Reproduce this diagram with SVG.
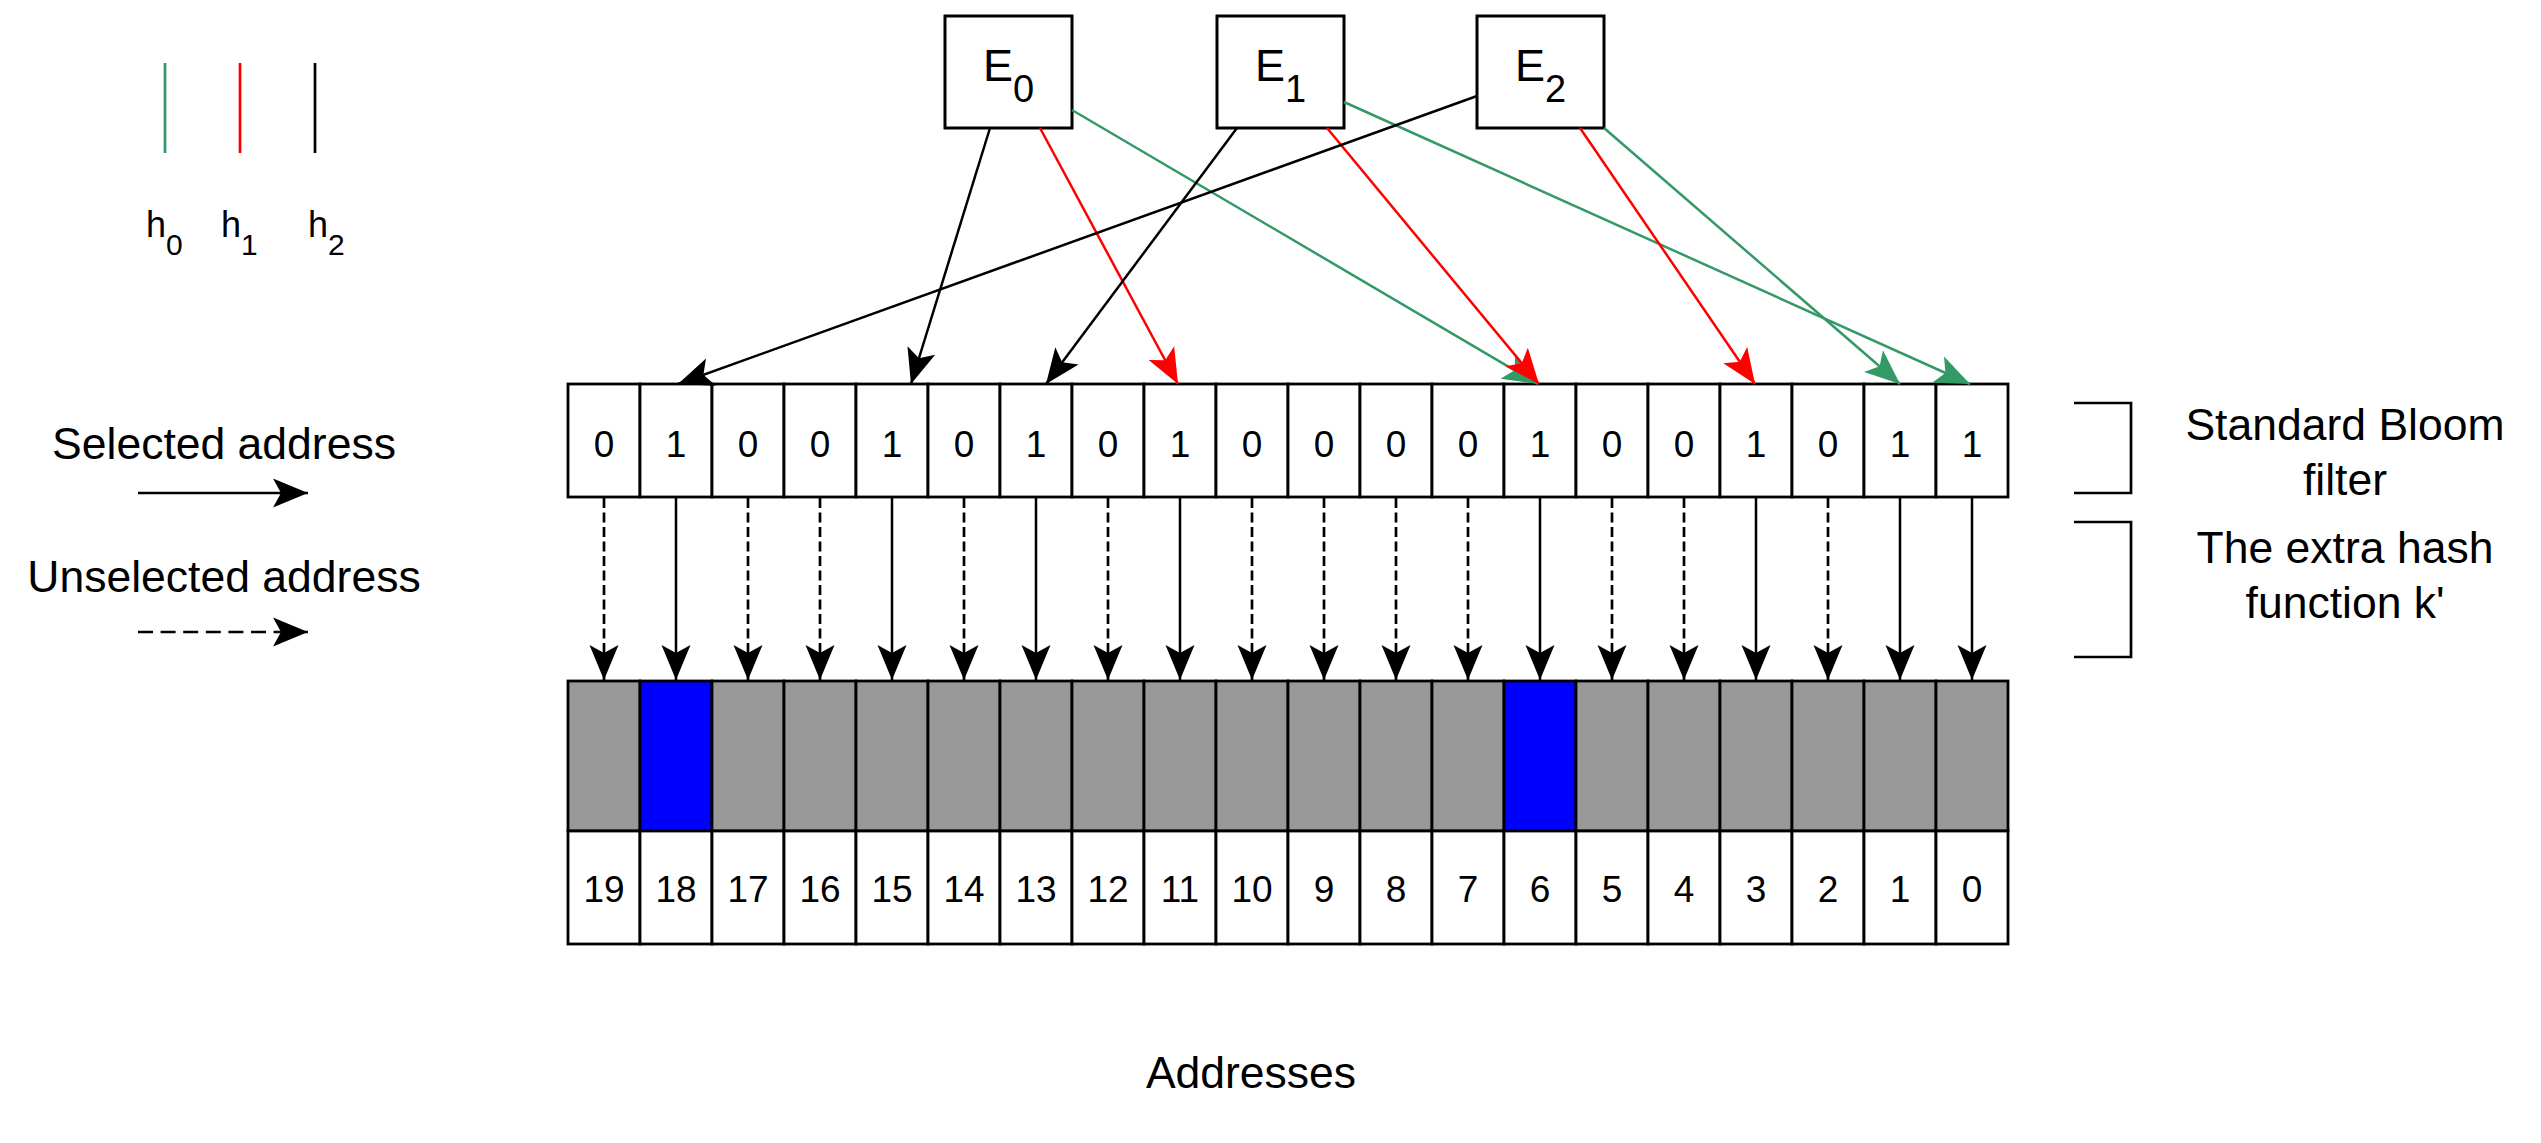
<svg xmlns="http://www.w3.org/2000/svg" width="2541" height="1143" viewBox="0 0 2541 1143">
<style>
text{font-family:"Liberation Sans",Arial,sans-serif;fill:#000}
.lbl{font-size:44.5px;text-anchor:middle}
.dig{font-size:37px;text-anchor:middle}
.cell{fill:#fff;stroke:#000;stroke-width:2.8}
.mem{fill:#999999;stroke:#000;stroke-width:2.8}
.sel{fill:#0000FF;stroke:#000;stroke-width:2.8}
.box{fill:#fff;stroke:#000;stroke-width:3}
.c{fill:none;stroke-width:2.5}
.k{stroke:#000}
.r{stroke:#FF0000}
.g{stroke:#339966}
.dash{stroke-dasharray:10 4.5;stroke-width:2.7}
.ldash{stroke-dasharray:15 7.6}
</style>
<defs>
<marker id="ak" viewBox="-36 -16 37 32" markerWidth="37" markerHeight="32" refX="0" refY="0" orient="auto" markerUnits="userSpaceOnUse"><path d="M0,0 L-35,-14.5 L-27,0 L-35,14.5 Z" fill="#000"/></marker>
<marker id="ar" viewBox="-36 -16 37 32" markerWidth="37" markerHeight="32" refX="0" refY="0" orient="auto" markerUnits="userSpaceOnUse"><path d="M0,0 L-35,-14.5 L-27,0 L-35,14.5 Z" fill="#FF0000"/></marker>
<marker id="ag" viewBox="-36 -16 37 32" markerWidth="37" markerHeight="32" refX="0" refY="0" orient="auto" markerUnits="userSpaceOnUse"><path d="M0,0 L-35,-14.5 L-27,0 L-35,14.5 Z" fill="#339966"/></marker>
</defs>

<g id="legend-hash">
<line x1="165" y1="63" x2="165" y2="153" stroke="#339966" stroke-width="2.7"/>
<line x1="240" y1="63" x2="240" y2="153" stroke="#FF0000" stroke-width="2.7"/>
<line x1="315" y1="63" x2="315" y2="153" stroke="#000" stroke-width="2.7"/>
<text x="146" y="237" font-size="36">h<tspan dy="18" font-size="30">0</tspan></text>
<text x="221" y="237" font-size="36">h<tspan dy="18" font-size="30">1</tspan></text>
<text x="308" y="237" font-size="36">h<tspan dy="18" font-size="30">2</tspan></text>
</g>

<g id="legend-arrows">
<text class="lbl" x="224" y="459">Selected address</text>
<line class="c k" x1="138" y1="493" x2="308" y2="493" marker-end="url(#ak)"/>
<text class="lbl" x="224" y="592">Unselected address</text>
<line class="c k ldash" x1="138" y1="632" x2="308" y2="632" marker-end="url(#ak)"/>
</g>

<g id="E0"><rect class="box" x="945" y="16" width="127" height="112"/><text x="1008.5" y="81" font-size="45" text-anchor="middle">E<tspan dy="21" font-size="38">0</tspan></text></g>
<g id="E1"><rect class="box" x="1217" y="16" width="127" height="112"/><text x="1280.5" y="81" font-size="45" text-anchor="middle">E<tspan dy="21" font-size="38">1</tspan></text></g>
<g id="E2"><rect class="box" x="1477" y="16" width="127" height="112"/><text x="1540.5" y="81" font-size="45" text-anchor="middle">E<tspan dy="21" font-size="38">2</tspan></text></g>

<g id="bloom-filter">
<rect class="cell" x="568" y="384" width="72" height="113"/><text class="dig" x="604" y="457">0</text>
<rect class="cell" x="640" y="384" width="72" height="113"/><text class="dig" x="676" y="457">1</text>
<rect class="cell" x="712" y="384" width="72" height="113"/><text class="dig" x="748" y="457">0</text>
<rect class="cell" x="784" y="384" width="72" height="113"/><text class="dig" x="820" y="457">0</text>
<rect class="cell" x="856" y="384" width="72" height="113"/><text class="dig" x="892" y="457">1</text>
<rect class="cell" x="928" y="384" width="72" height="113"/><text class="dig" x="964" y="457">0</text>
<rect class="cell" x="1000" y="384" width="72" height="113"/><text class="dig" x="1036" y="457">1</text>
<rect class="cell" x="1072" y="384" width="72" height="113"/><text class="dig" x="1108" y="457">0</text>
<rect class="cell" x="1144" y="384" width="72" height="113"/><text class="dig" x="1180" y="457">1</text>
<rect class="cell" x="1216" y="384" width="72" height="113"/><text class="dig" x="1252" y="457">0</text>
<rect class="cell" x="1288" y="384" width="72" height="113"/><text class="dig" x="1324" y="457">0</text>
<rect class="cell" x="1360" y="384" width="72" height="113"/><text class="dig" x="1396" y="457">0</text>
<rect class="cell" x="1432" y="384" width="72" height="113"/><text class="dig" x="1468" y="457">0</text>
<rect class="cell" x="1504" y="384" width="72" height="113"/><text class="dig" x="1540" y="457">1</text>
<rect class="cell" x="1576" y="384" width="72" height="113"/><text class="dig" x="1612" y="457">0</text>
<rect class="cell" x="1648" y="384" width="72" height="113"/><text class="dig" x="1684" y="457">0</text>
<rect class="cell" x="1720" y="384" width="72" height="113"/><text class="dig" x="1756" y="457">1</text>
<rect class="cell" x="1792" y="384" width="72" height="113"/><text class="dig" x="1828" y="457">0</text>
<rect class="cell" x="1864" y="384" width="72" height="113"/><text class="dig" x="1900" y="457">1</text>
<rect class="cell" x="1936" y="384" width="72" height="113"/><text class="dig" x="1972" y="457">1</text>
</g>

<g id="memory">
<rect class="mem" x="568" y="681" width="72" height="150"/>
<rect class="sel" x="640" y="681" width="72" height="150"/>
<rect class="mem" x="712" y="681" width="72" height="150"/>
<rect class="mem" x="784" y="681" width="72" height="150"/>
<rect class="mem" x="856" y="681" width="72" height="150"/>
<rect class="mem" x="928" y="681" width="72" height="150"/>
<rect class="mem" x="1000" y="681" width="72" height="150"/>
<rect class="mem" x="1072" y="681" width="72" height="150"/>
<rect class="mem" x="1144" y="681" width="72" height="150"/>
<rect class="mem" x="1216" y="681" width="72" height="150"/>
<rect class="mem" x="1288" y="681" width="72" height="150"/>
<rect class="mem" x="1360" y="681" width="72" height="150"/>
<rect class="mem" x="1432" y="681" width="72" height="150"/>
<rect class="sel" x="1504" y="681" width="72" height="150"/>
<rect class="mem" x="1576" y="681" width="72" height="150"/>
<rect class="mem" x="1648" y="681" width="72" height="150"/>
<rect class="mem" x="1720" y="681" width="72" height="150"/>
<rect class="mem" x="1792" y="681" width="72" height="150"/>
<rect class="mem" x="1864" y="681" width="72" height="150"/>
<rect class="mem" x="1936" y="681" width="72" height="150"/>
</g>

<g id="addresses">
<rect class="cell" x="568" y="831" width="72" height="113"/><text class="dig" x="604" y="902">19</text>
<rect class="cell" x="640" y="831" width="72" height="113"/><text class="dig" x="676" y="902">18</text>
<rect class="cell" x="712" y="831" width="72" height="113"/><text class="dig" x="748" y="902">17</text>
<rect class="cell" x="784" y="831" width="72" height="113"/><text class="dig" x="820" y="902">16</text>
<rect class="cell" x="856" y="831" width="72" height="113"/><text class="dig" x="892" y="902">15</text>
<rect class="cell" x="928" y="831" width="72" height="113"/><text class="dig" x="964" y="902">14</text>
<rect class="cell" x="1000" y="831" width="72" height="113"/><text class="dig" x="1036" y="902">13</text>
<rect class="cell" x="1072" y="831" width="72" height="113"/><text class="dig" x="1108" y="902">12</text>
<rect class="cell" x="1144" y="831" width="72" height="113"/><text class="dig" x="1180" y="902">11</text>
<rect class="cell" x="1216" y="831" width="72" height="113"/><text class="dig" x="1252" y="902">10</text>
<rect class="cell" x="1288" y="831" width="72" height="113"/><text class="dig" x="1324" y="902">9</text>
<rect class="cell" x="1360" y="831" width="72" height="113"/><text class="dig" x="1396" y="902">8</text>
<rect class="cell" x="1432" y="831" width="72" height="113"/><text class="dig" x="1468" y="902">7</text>
<rect class="cell" x="1504" y="831" width="72" height="113"/><text class="dig" x="1540" y="902">6</text>
<rect class="cell" x="1576" y="831" width="72" height="113"/><text class="dig" x="1612" y="902">5</text>
<rect class="cell" x="1648" y="831" width="72" height="113"/><text class="dig" x="1684" y="902">4</text>
<rect class="cell" x="1720" y="831" width="72" height="113"/><text class="dig" x="1756" y="902">3</text>
<rect class="cell" x="1792" y="831" width="72" height="113"/><text class="dig" x="1828" y="902">2</text>
<rect class="cell" x="1864" y="831" width="72" height="113"/><text class="dig" x="1900" y="902">1</text>
<rect class="cell" x="1936" y="831" width="72" height="113"/><text class="dig" x="1972" y="902">0</text>
<text class="lbl" x="1251" y="1088">Addresses</text>
</g>

<g id="brackets" fill="none" stroke="#000" stroke-width="2.7">
<path d="M2074,403 H2131 V493 H2074"/>
<path d="M2074,522 H2131 V657 H2074"/>
</g>
<g id="side-labels">
<text class="lbl" x="2345" y="440">Standard Bloom</text>
<text class="lbl" x="2345" y="495">filter</text>
<text class="lbl" x="2345" y="563">The extra hash</text>
<text class="lbl" x="2345" y="618">function k'</text>
</g>

<g id="connectors">
<line class="c k" x1="990" y1="128" x2="911" y2="384" marker-end="url(#ak)"/>
<line class="c r" x1="1040" y1="128" x2="1178" y2="384" marker-end="url(#ar)"/>
<line class="c g" x1="1072" y1="110" x2="1538" y2="384" marker-end="url(#ag)"/>
<line class="c k" x1="1237" y1="128" x2="1046" y2="384" marker-end="url(#ak)"/>
<line class="c r" x1="1327" y1="128" x2="1539" y2="384" marker-end="url(#ar)"/>
<line class="c g" x1="1344" y1="102" x2="1970" y2="384" marker-end="url(#ag)"/>
<line class="c k" x1="1477" y1="96" x2="678" y2="384" marker-end="url(#ak)"/>
<line class="c r" x1="1580" y1="128" x2="1755" y2="384" marker-end="url(#ar)"/>
<line class="c g" x1="1604" y1="128" x2="1900" y2="384" marker-end="url(#ag)"/>

<line class="c k dash" x1="604" y1="498" x2="604" y2="680" marker-end="url(#ak)"/>
<line class="c k" x1="676" y1="498" x2="676" y2="680" marker-end="url(#ak)"/>
<line class="c k dash" x1="748" y1="498" x2="748" y2="680" marker-end="url(#ak)"/>
<line class="c k dash" x1="820" y1="498" x2="820" y2="680" marker-end="url(#ak)"/>
<line class="c k" x1="892" y1="498" x2="892" y2="680" marker-end="url(#ak)"/>
<line class="c k dash" x1="964" y1="498" x2="964" y2="680" marker-end="url(#ak)"/>
<line class="c k" x1="1036" y1="498" x2="1036" y2="680" marker-end="url(#ak)"/>
<line class="c k dash" x1="1108" y1="498" x2="1108" y2="680" marker-end="url(#ak)"/>
<line class="c k" x1="1180" y1="498" x2="1180" y2="680" marker-end="url(#ak)"/>
<line class="c k dash" x1="1252" y1="498" x2="1252" y2="680" marker-end="url(#ak)"/>
<line class="c k dash" x1="1324" y1="498" x2="1324" y2="680" marker-end="url(#ak)"/>
<line class="c k dash" x1="1396" y1="498" x2="1396" y2="680" marker-end="url(#ak)"/>
<line class="c k dash" x1="1468" y1="498" x2="1468" y2="680" marker-end="url(#ak)"/>
<line class="c k" x1="1540" y1="498" x2="1540" y2="680" marker-end="url(#ak)"/>
<line class="c k dash" x1="1612" y1="498" x2="1612" y2="680" marker-end="url(#ak)"/>
<line class="c k dash" x1="1684" y1="498" x2="1684" y2="680" marker-end="url(#ak)"/>
<line class="c k" x1="1756" y1="498" x2="1756" y2="680" marker-end="url(#ak)"/>
<line class="c k dash" x1="1828" y1="498" x2="1828" y2="680" marker-end="url(#ak)"/>
<line class="c k" x1="1900" y1="498" x2="1900" y2="680" marker-end="url(#ak)"/>
<line class="c k" x1="1972" y1="498" x2="1972" y2="680" marker-end="url(#ak)"/>
</g>
</svg>
